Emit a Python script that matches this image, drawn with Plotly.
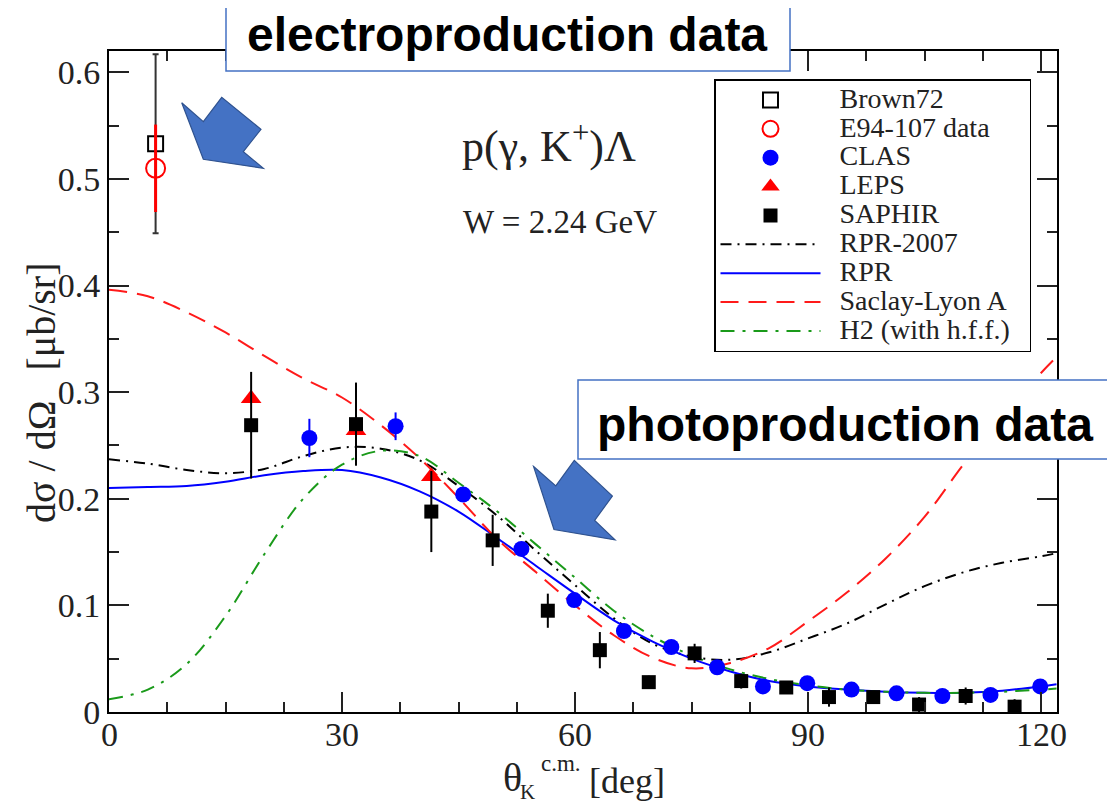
import plotly.graph_objects as go

# ---------------- data ----------------
brown_x = [6.0]
brown_y = [0.533]
brown_err = [0.084]

e94_x = [6.0]
e94_y = [0.510]
e94_err = [0.041]

clas_x = [25.8, 36.9, 45.6, 53.1, 59.9, 66.3, 72.4, 78.3, 84.2, 89.9, 95.6, 101.4, 107.3, 113.5, 119.9]
clas_y = [0.257, 0.268, 0.204, 0.153, 0.105, 0.076, 0.061, 0.042, 0.024, 0.027, 0.021, 0.0175, 0.015, 0.016, 0.024]
clas_err = [0.018, 0.013, 0.006, 0.005, 0.004, 0.003, 0.003, 0.002, 0.002, 0.002, 0.002, 0.002, 0.002, 0.002, 0.002]

leps_x = [18.3, 31.8, 41.5]
leps_y = [0.294, 0.264, 0.221]

saphir_x = [18.3, 31.8, 41.5, 49.4, 56.5, 63.2, 69.5, 75.4, 81.4, 87.2, 92.7, 98.4, 104.3, 110.3, 116.6]
saphir_y = [0.269, 0.270, 0.188, 0.161, 0.095, 0.058, 0.028, 0.055, 0.029, 0.023, 0.014, 0.014, 0.007, 0.015, 0.005]
saphir_err = [0.050, 0.039, 0.038, 0.024, 0.016, 0.017, 0.006, 0.009, 0.007, 0.006, 0.009, 0.005, 0.007, 0.008, 0.007]

theta = [0, 5, 10, 15, 20, 25, 30, 35, 40, 45, 50, 55, 60, 65, 70, 75, 80, 85, 90, 95, 100, 105, 110, 115, 120, 122]
rpr2007 = [0.237, 0.233, 0.227, 0.224, 0.228, 0.240, 0.248, 0.247, 0.236, 0.212, 0.184, 0.151, 0.119, 0.088, 0.064,
           0.052, 0.049, 0.056, 0.069, 0.083, 0.101, 0.118, 0.131, 0.140, 0.146, 0.149]
rpr = [0.210, 0.211, 0.212, 0.216, 0.222, 0.226, 0.227, 0.220, 0.207, 0.188, 0.163, 0.137, 0.111, 0.086, 0.066,
       0.050, 0.038, 0.029, 0.024, 0.021, 0.019, 0.018, 0.018, 0.020, 0.024, 0.026]
saclay = [0.396, 0.390, 0.375, 0.356, 0.334, 0.313, 0.295, 0.269, 0.238, 0.201, 0.162, 0.131, 0.100, 0.072, 0.051,
          0.041, 0.046, 0.060, 0.085, 0.112, 0.144, 0.183, 0.232, 0.277, 0.318, 0.333]
h2 = [0.012, 0.021, 0.045, 0.090, 0.148, 0.200, 0.232, 0.245, 0.240, 0.215, 0.188, 0.157, 0.126, 0.095, 0.071,
      0.053, 0.040, 0.031, 0.025, 0.021, 0.019, 0.018, 0.018, 0.019, 0.021, 0.022]

x_ticks = [0, 30, 60, 90, 120]
x_tick_text = ["0", "30", "60", "90", "120"]
y_ticks = [0, 0.1, 0.2, 0.3, 0.4, 0.5, 0.6]
y_tick_text = ["0", "0.1", "0.2", "0.3", "0.4", "0.5", "0.6"]

# ---------------- layout geometry (page pixels) ----------------
PAGE_W, PAGE_H = 1115, 806
BODY = 8                      # default page body margin
L, R, T, B = 109, 1057, 51, 712


def px(xp):
    return (xp - L) / (R - L)


def py(yp):
    return (B - yp) / (B - T)


SERIF = "Liberation Serif"
SANS = "Liberation Sans"
TXT = "#222"
LEG_FS = 19.9
NB = "\u00a0"


def lname(s):
    return '<span style="font-size:28px">' + NB * 2 + s + NB * 2 + '</span>'


fig = go.Figure()

# curves (drawn first, listed later in legend)
fig.add_trace(go.Scatter(x=theta, y=rpr2007, mode="lines", name=lname("RPR-2007"), legendrank=6,
                         line=dict(color="black", width=2, dash="11px,6px,2px,6px", shape="spline")))
fig.add_trace(go.Scatter(x=theta, y=rpr, mode="lines", name=lname("RPR"), legendrank=7,
                         line=dict(color="#0000ff", width=2, shape="spline")))
fig.add_trace(go.Scatter(x=theta, y=saclay, mode="lines", name=lname("Saclay-Lyon A"), legendrank=8,
                         line=dict(color="#ff1a1a", width=2, dash="18px,10px", shape="spline")))
fig.add_trace(go.Scatter(x=theta, y=h2, mode="lines", name=lname("H2 (with h.f.f.)"), legendrank=9,
                         line=dict(color="#1a9a1a", width=2, dash="14px,8px,3px,8px", shape="spline")))

# data points
fig.add_trace(go.Scatter(x=brown_x, y=brown_y, mode="markers", name=lname("Brown72"), legendrank=1,
                         error_y=dict(type="data", array=brown_err, color="#333", thickness=2, width=3),
                         marker=dict(symbol="square-open", size=15, color="black", line=dict(width=2))))
fig.add_trace(go.Scatter(x=e94_x, y=e94_y, mode="markers", name=lname("E94-107 data"), legendrank=2,
                         error_y=dict(type="data", array=e94_err, color="red", thickness=3, width=0),
                         marker=dict(symbol="circle-open", size=19, color="red", line=dict(width=2))))
fig.add_trace(go.Scatter(x=clas_x, y=clas_y, mode="markers", name=lname("CLAS"), legendrank=3,
                         error_y=dict(type="data", array=clas_err, color="#0000ff", thickness=2, width=0),
                         marker=dict(symbol="circle", size=16, color="#0000ff")))
fig.add_trace(go.Scatter(x=leps_x, y=leps_y, mode="markers", name=lname("LEPS"), legendrank=4,
                         marker=dict(symbol="triangle-up", size=18, color="red")))
fig.add_trace(go.Scatter(x=saphir_x, y=saphir_y, mode="markers", name=lname("SAPHIR"), legendrank=5,
                         error_y=dict(type="data", array=saphir_err, color="black", thickness=2, width=0),
                         marker=dict(symbol="square", size=14, color="black")))

axis_common = dict(
    showline=True, linecolor="black", linewidth=2, mirror="ticks",
    ticks="inside", ticklen=20, tickwidth=2, tickcolor=TXT,
    showgrid=False, zeroline=False,
    tickfont=dict(family=SERIF, size=34, color=TXT),
)

fig.update_xaxes(range=[0, 122.06], tickvals=x_ticks, showticklabels=False,
                 minor=dict(dtick=7.5, ticklen=10, tickwidth=2, ticks="inside", tickcolor=TXT, showgrid=False),
                 **axis_common)
fig.update_yaxes(range=[0, 0.62], tickvals=y_ticks, ticktext=y_tick_text,
                 minor=dict(dtick=0.05, ticklen=10, tickwidth=2, ticks="inside", tickcolor=TXT, showgrid=False),
                 **axis_common)


# overlay shapes: boxes and arrows
def poly(points):
    pts = ["%.4f,%.4f" % (px(a), py(b)) for a, b in points]
    return "M" + " L".join(pts) + " Z"


arrow1 = [(181.7, 102.7), (203.3, 121.7), (221.7, 97.3), (261, 129.3), (243.3, 151.7), (263.3, 168.3), (203.3, 159.3)]
arrow2 = [(533.6, 466.6), (555.8, 485.9), (574.3, 460.4), (612.4, 496.2), (594.7, 520.3), (615, 539.9), (554, 529.5)]

shapes = [
    dict(type="rect", xref="paper", yref="paper", x0=px(226), x1=px(790), y0=py(71), y1=py(-20),
         fillcolor="white", line=dict(color="#4472C4", width=1.5), layer="above"),
    dict(type="rect", xref="paper", yref="paper", x0=px(578), x1=px(1140), y0=py(459), y1=py(380),
         fillcolor="white", line=dict(color="#4472C4", width=1.5), layer="above"),
    dict(type="path", xref="paper", yref="paper", path=poly(arrow1),
         fillcolor="#4472C4", line=dict(color="#2F528F", width=1.2), layer="above"),
    dict(type="path", xref="paper", yref="paper", path=poly(arrow2),
         fillcolor="#4472C4", line=dict(color="#2F528F", width=1.2), layer="above"),
]


def note(text, x, y, size, family=SERIF, angle=0, color=TXT):
    return dict(text=text, x=px(x), y=py(y), xref="paper", yref="paper", xanchor="center", yanchor="middle",
                textangle=angle, showarrow=False, font=dict(family=family, size=size, color=color))


annotations = [
    note("<b>electroproduction data</b>", 507, 35, 48, SANS, color="black"),
    note("<b>photoproduction data</b>", 845, 424, 48, SANS, color="black"),
    note("p(γ, K<sup>+</sup>)Λ", 549, 143, 44),
    note("W = 2.24 GeV", 560, 222, 33),
    note("dσ / dΩ   [μb/sr]", 42, 393, 40, angle=-90),
    note("θ", 512, 777, 40),
    note("c.m.", 561, 763, 23),
    note("K", 527, 792, 21),
    note("[deg]", 627, 781, 36),
]

# x tick labels placed on the x axis scale
for v, t in zip(x_ticks, x_tick_text):
    annotations.append(dict(text=t, x=v, y=py(734), xref="x", yref="paper", xanchor="center", yanchor="middle",
                            showarrow=False, font=dict(family=SERIF, size=34, color=TXT)))

fig.update_layout(
    width=PAGE_W - BODY, height=PAGE_H - BODY,
    margin=dict(l=L - BODY, r=PAGE_W - R, t=T - BODY, b=PAGE_H - B, pad=0),
    plot_bgcolor="white", paper_bgcolor="white",
    showlegend=True,
    legend=dict(x=px(714), y=py(79), xanchor="left", yanchor="top",
                bgcolor="white", bordercolor="black", borderwidth=1.5,
                font=dict(family=SERIF, size=LEG_FS, color=TXT),
                itemwidth=100, tracegroupgap=0),
    shapes=shapes,
    annotations=annotations,
)

fig.write_html("out.html")
